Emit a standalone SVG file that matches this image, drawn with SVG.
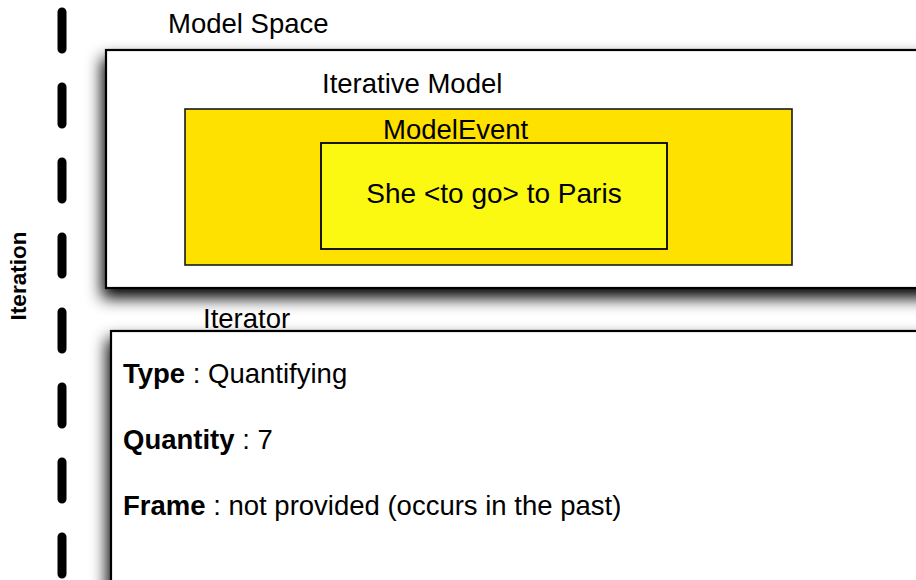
<svg xmlns="http://www.w3.org/2000/svg" width="916" height="580" viewBox="0 0 916 580">
  <style>
    text { font-family: "Liberation Sans", Arial, Helvetica, sans-serif; fill: #000; }
    .lbl { font-size: 27.5px; }
    .b { font-weight: bold; }
    .box { fill: #ffffff; stroke: #000; stroke-width: 2.2; }
    .gold { fill: #ffe100; stroke: #1a1a1a; stroke-width: 1.6; }
    .yel { fill: #fbf912; stroke: #000; stroke-width: 1.8; }
  </style>
  <defs>
    <filter id="shadow" x="-10%" y="-20%" width="130%" height="160%">
      <feDropShadow dx="-3" dy="9" stdDeviation="8" flood-color="#000" flood-opacity="1"/>
    </filter>
  </defs>
  <rect width="916" height="580" fill="#ffffff"/>

  <g id="iteration-axis">
    <line x1="62" y1="12" x2="62" y2="600" stroke="#000" stroke-width="9" stroke-linecap="round" stroke-dasharray="37 38"/>
    <text class="b" font-size="22.5" text-anchor="middle" transform="translate(26 276) rotate(-90)">Iteration</text>
  </g>

  <g id="model-space">
    <text class="lbl" x="168" y="33">Model Space</text>
    <rect class="box" x="106" y="50" width="840" height="238" filter="url(#shadow)"/>
  </g>

  <g id="iterative-model">
    <text class="lbl" x="322" y="93">Iterative Model</text>
    <rect class="gold" x="185" y="109" width="607" height="156"/>
  </g>

  <g id="model-event">
    <text class="lbl" x="383" y="139">ModelEvent</text>
    <rect class="yel" x="321" y="143" width="346" height="106"/>
    <text x="494" y="203" text-anchor="middle" style="font-size:28px">She &lt;to go&gt; to Paris</text>
  </g>

  <g id="iterator">
    <text class="lbl" x="203" y="328">Iterator</text>
    <rect class="box" x="111" y="331" width="840" height="300" filter="url(#shadow)"/>
    <text class="lbl" x="123" y="383"><tspan class="b">Type</tspan> : Quantifying</text>
    <text class="lbl" x="123" y="449"><tspan class="b">Quantity</tspan> : 7</text>
    <text class="lbl" x="123" y="515"><tspan class="b">Frame</tspan> : not provided (occurs in the past)</text>
  </g>
</svg>
